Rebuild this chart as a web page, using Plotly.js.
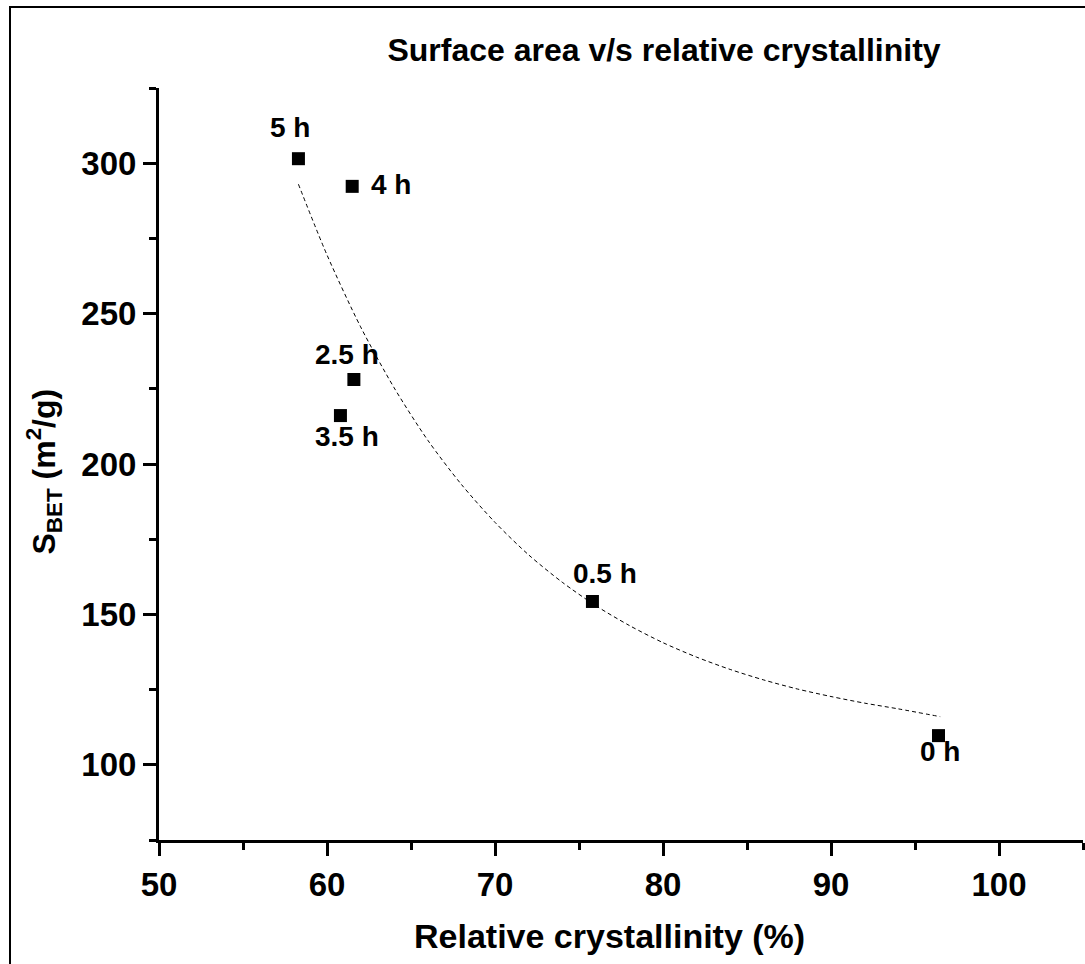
<!DOCTYPE html>
<html>
<head>
<meta charset="utf-8">
<script src="https://cdn.plot.ly/plotly-3.0.1.min.js"></script>
<style>
  html, body { margin: 0; padding: 0; background: #fff; overflow: hidden; }
  #wrap { position: relative; width: 1085px; height: 964px; }
  #chart { position: absolute; left: 0; top: 0; width: 1085px; height: 964px; }
  #frame { position: absolute; left: 9px; top: 6px; width: 1200px; height: 1100px;
           border: 2px solid #000; pointer-events: none; }
</style>
</head>
<body>
<div id="wrap">
  <div id="chart"></div>
  <div id="frame"></div>
</div>
<script>
// Measured points: relative crystallinity (%) vs BET surface area (m2/g)
const crystallinity = [58.3, 61.5, 61.6, 60.8, 75.8, 96.4];
const surfaceArea   = [301.5, 292.3, 228.1, 216.1, 154.3, 109.7];
const timeLabels    = ["5 h", "4 h", "2.5 h", "3.5 h", "0.5 h", "0 h"];

// Label offsets (px) relative to each point
const labelDx = [-8, 39, -7, 7, 13, 1];
const labelDy = [31, 2, 25, -21, 28, -16];

// Fitted decay curve
const fitX = [58.3, 60, 62, 64, 66, 68, 70, 72, 74, 76, 78, 80, 82, 84, 86, 88, 90, 92, 94, 96.5];
const fitY = [293, 269.5, 245.6, 225.3, 207.9, 193.2, 180.6, 169.8, 160.7, 152.9, 146.3, 140.6, 135.8, 131.7, 128.2, 125.2, 122.7, 120.5, 118.6, 116];

const FONT = "Liberation Sans, Arial, sans-serif";

const traces = [
  {
    x: fitX, y: fitY, type: "scatter", mode: "lines",
    line: { color: "#000", width: 1, dash: "4px,3px", shape: "spline", smoothing: 0.8 },
    hoverinfo: "skip", showlegend: false
  },
  {
    x: crystallinity, y: surfaceArea, type: "scatter", mode: "markers",
    marker: { symbol: "square", size: 13, color: "#000" },
    showlegend: false
  }
];

const annotations = timeLabels.map((t, i) => ({
  x: crystallinity[i], y: surfaceArea[i], xref: "x", yref: "y",
  text: "<b>" + t + "</b>", showarrow: false,
  xshift: labelDx[i], yshift: labelDy[i],
  xanchor: "center", yanchor: "middle",
  font: { family: FONT, size: 28, color: "#000" }
}));

// Axis titles placed as paper annotations
annotations.push({
  xref: "paper", yref: "paper", x: 0.488, y: -0.128,
  xanchor: "center", yanchor: "middle", showarrow: false,
  text: "<b>Relative crystallinity (%)</b>",
  font: { family: FONT, size: 34, color: "#000" }
});
annotations.push({
  xref: "paper", yref: "paper", x: -0.1245, y: 0.49,
  xanchor: "center", yanchor: "middle", showarrow: false, textangle: -90,
  text: "<b>S<sub>BET</sub> (m<sup>2</sup>/g)</b>",
  font: { family: FONT, size: 32, color: "#000" }
});

const layout = {
  width: 1085, height: 964,
  margin: { l: 159, r: 2, t: 88, b: 124 },
  paper_bgcolor: "#fff", plot_bgcolor: "#fff",
  showlegend: false,
  title: {
    text: "<b>Surface area v/s relative crystallinity</b>",
    font: { family: FONT, size: 32, color: "#000" },
    x: 0.612, xref: "container", xanchor: "center",
    y: 0.948, yref: "container", yanchor: "middle"
  },
  xaxis: {
    range: [50, 105], dtick: 10, tick0: 50,
    showline: true, linecolor: "#000", linewidth: 3,
    ticks: "outside", ticklen: 13, tickwidth: 3, tickcolor: "#000",
    minor: { dtick: 5, ticks: "outside", ticklen: 7, tickwidth: 3, tickcolor: "#000", showgrid: false },
    showgrid: false, zeroline: false,
    tickfont: { family: FONT, size: 33, color: "#000", weight: "bold" }
  },
  yaxis: {
    range: [75, 325], dtick: 50, tick0: 100,
    showline: true, linecolor: "#000", linewidth: 3,
    ticks: "outside", ticklen: 13, tickwidth: 3, tickcolor: "#000",
    minor: { dtick: 25, ticks: "outside", ticklen: 7, tickwidth: 3, tickcolor: "#000", showgrid: false },
    showgrid: false, zeroline: false,
    tickfont: { family: FONT, size: 33, color: "#000", weight: "bold" }
  },
  annotations: annotations
};

Plotly.newPlot("chart", traces, layout, { displayModeBar: false, staticPlot: true });
</script>
</body>
</html>
